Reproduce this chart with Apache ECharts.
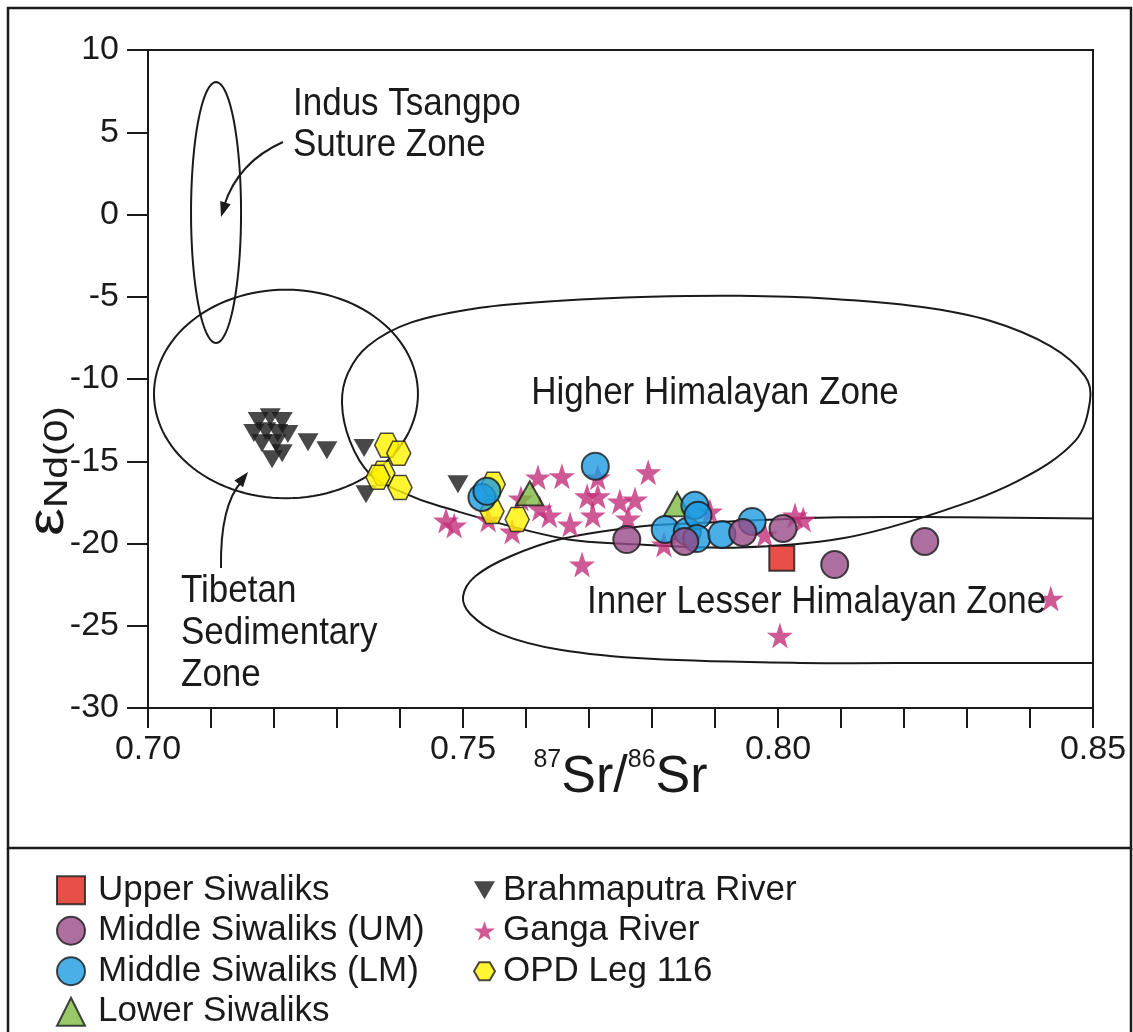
<!DOCTYPE html>
<html>
<head>
<meta charset="utf-8">
<script src="https://cdn.jsdelivr.net/npm/echarts@6/dist/echarts.min.js"></script>
<style>
  html, body { margin: 0; padding: 0; background: #ffffff; }
  #chart { width: 1133px; height: 1032px; }
</style>
</head>
<body>
<div id="chart"></div>
<script>
// 87Sr/86Sr vs εNd(0) for Siwalik sediments, modern rivers and ODP Leg 116 samples
const FONT = '"Liberation Sans", Arial, Helvetica, sans-serif';
const INK = '#1a1a1a';

// ---- axis ticks ----
const xTicks = [0.70, 0.75, 0.80, 0.85];
const yTicks = [-30, -25, -20, -15, -10, -5, 0, 5, 10];

// ---- samples: [87Sr/86Sr, εNd(0)] ----
const upperSiwaliks = [[0.8006, -20.9]];
const middleSiwaliksUM = [
  [0.7760, -19.76], [0.7852, -19.88], [0.7944, -19.33],
  [0.8008, -19.09], [0.8090, -21.28], [0.8233, -19.88]
];
const middleSiwaliksLM = [
  [0.7530, -17.2], [0.7538, -16.83], [0.7710, -15.3], [0.7821, -19.15],
  [0.7856, -19.27], [0.7868, -17.68], [0.7873, -18.29], [0.7871, -19.7],
  [0.7911, -19.45], [0.7959, -18.66]
];
const lowerSiwaliks = [[0.7606, -16.95], [0.7840, -17.62]];
const brahmaputraRiver = [
  [0.7175, -12.56], [0.7194, -12.32], [0.7213, -12.56], [0.7168, -13.29],
  [0.7187, -13.17], [0.7206, -13.29], [0.7222, -13.35], [0.7181, -13.9],
  [0.7203, -13.9], [0.7197, -14.88], [0.7213, -14.51], [0.7254, -13.84],
  [0.7284, -14.33], [0.7343, -14.2], [0.7346, -17.0], [0.7492, -16.4]
];
const gangaRiver = [
  [0.7473, -18.6], [0.7486, -18.9], [0.7540, -18.54], [0.7578, -19.27],
  [0.7592, -17.26], [0.7619, -15.98], [0.7622, -17.87], [0.7637, -18.29],
  [0.7657, -15.91], [0.7670, -18.84], [0.7689, -21.28], [0.7697, -17.13],
  [0.7714, -17.13], [0.7706, -18.29], [0.7714, -15.98], [0.7749, -17.44],
  [0.7773, -17.32], [0.7762, -18.48], [0.7794, -15.67], [0.7819, -20.06],
  [0.7892, -18.05], [0.7979, -19.45], [0.8027, -18.29], [0.8040, -18.54],
  [0.8003, -25.6], [0.8433, -23.35]
];
const odpLeg116 = [
  [0.7379, -14.02], [0.7398, -14.51], [0.7373, -15.73], [0.7365, -15.98],
  [0.7400, -16.59], [0.7548, -16.4], [0.7546, -18.05], [0.7586, -18.54]
];

// ---- source-zone fields ----
// ellipses: [centre Sr, centre εNd, half-width Sr, half-height εNd]
const indusTsangpoField = [0.7108, 0.12, 0.00397, 7.93];
const tibetanField = [0.7219, -10.91, 0.02095, 6.34];
// outlines traced as [Sr, εNd]
const higherHimalayanField = [
  [0.73079, -11.46], [0.73175, -9.63], [0.73492, -7.99], [0.74159, -6.59],
  [0.75270, -5.67], [0.76540, -5.24], [0.77968, -5.0], [0.79397, -4.94],
  [0.80825, -5.12], [0.82254, -5.61], [0.83365, -6.46], [0.84317, -7.99],
  [0.84873, -9.82], [0.84952, -11.34], [0.84714, -13.78], [0.83794, -16.22],
  [0.82397, -18.29], [0.81000, -19.70], [0.79397, -20.24], [0.77810, -20.06],
  [0.76587, -19.70], [0.74635, -17.74], [0.74000, -16.83], [0.73524, -15.79],
  [0.73206, -13.78]
];
const innerLesserHimalayanField = [
  [0.85, -18.48], [0.82889, -18.41], [0.80984, -18.41], [0.78603, -18.78],
  [0.77810, -18.96], [0.76587, -19.70], [0.75746, -20.79], [0.75190, -22.01],
  [0.75000, -23.23], [0.75111, -24.27], [0.75587, -25.49], [0.76540, -26.46],
  [0.77968, -27.01], [0.80349, -27.26], [0.82730, -27.26], [0.85, -27.26]
];

const STAR = 'path://M50,0 L61.8,35.1 L98.5,35.1 L68.8,56.8 L79.4,91 L50,70 L20.6,91 L31.2,56.8 L1.5,35.1 L38.2,35.1 Z';
const HEXAGON = 'path://M0,50 L25,6.7 L75,6.7 L100,50 L75,93.3 L25,93.3 Z';
const DOWN_TRIANGLE = 'path://M0,0 L100,0 L50,86 Z';

function ellipseSeries(field) {
  return {
    type: 'custom', silent: true, clip: false,
    data: [field],
    renderItem: function (params, api) {
      const c = api.coord([api.value(0), api.value(1)]);
      const s = api.size([api.value(2), api.value(3)]);
      const pts = [];
      for (let i = 0; i < 120; i++) {
        const t = (i / 120) * Math.PI * 2;
        pts.push([c[0] + s[0] * Math.cos(t), c[1] + s[1] * Math.sin(t)]);
      }
      return { type: 'polygon', shape: { points: pts },
        style: { fill: 'none', stroke: INK, lineWidth: 2 } };
    }
  };
}

function outlineSeries(points, closed) {
  return {
    type: 'custom', silent: true, clip: false,
    data: [points[0]],
    renderItem: function (params, api) {
      const pts = points.map(p => api.coord(p));
      return { type: closed ? 'polygon' : 'polyline', shape: { points: pts, smooth: 0.35 },
        style: { fill: 'none', stroke: INK, lineWidth: 2 } };
    }
  };
}

const border = { borderColor: INK, borderWidth: 2 };

const chart = echarts.init(document.getElementById('chart'), null, { renderer: 'canvas' });

const labelText = { fontFamily: FONT, fontSize: 35, fill: INK };
function zoneLabel(text, x, y, align) {
  return { type: 'text', z: 50, silent: true, x: x, y: y, scaleY: 1.1,
    style: Object.assign({ text: text, align: align || 'left', verticalAlign: 'middle' }, labelText) };
}

chart.setOption({
  animation: false,
  backgroundColor: '#ffffff',
  textStyle: { fontFamily: FONT, color: INK },
  grid: { left: 148, top: 50, right: 40, bottom: 324, show: true,
          borderColor: INK, borderWidth: 2, backgroundColor: 'transparent' },
  xAxis: {
    type: 'value', min: xTicks[0], max: xTicks[xTicks.length - 1], interval: 0.05,
    axisLine: { onZero: false, lineStyle: { color: INK, width: 2 } },
    axisTick: { inside: false, length: 20, lineStyle: { color: INK, width: 2 } },
    minorTick: { show: true, splitNumber: 5, length: 20, lineStyle: { color: INK, width: 2 } },
    splitLine: { show: false },
    axisLabel: { fontFamily: FONT, fontSize: 34, color: INK, margin: 25,
                 formatter: v => v.toFixed(2) },
    name: '{sup|87}{big|Sr/}{sup|86}{big|Sr}',
    nameLocation: 'middle', nameGap: 40, nameMoveOverlap: false,
    nameTextStyle: { rich: {
      big: { fontFamily: FONT, fontSize: 52, color: INK, verticalAlign: 'bottom', lineHeight: 56 },
      sup: { fontFamily: FONT, fontSize: 25, color: INK, verticalAlign: 'top', lineHeight: 56 }
    } }
  },
  yAxis: {
    type: 'value', min: yTicks[0], max: yTicks[yTicks.length - 1], interval: 5,
    axisLine: { onZero: false, lineStyle: { color: INK, width: 2 } },
    axisTick: { inside: false, length: 21, lineStyle: { color: INK, width: 2 } },
    splitLine: { show: false },
    axisLabel: { fontFamily: FONT, fontSize: 34, color: INK, margin: 29 }
  },
  legend: [
    {
      left: 56, top: 870, padding: 0, orient: 'vertical', itemGap: 0, itemWidth: 28, itemHeight: 28,
      selectedMode: false,
      textStyle: { fontFamily: FONT, fontSize: 35, color: INK, lineHeight: 40.5, padding: [0, 0, 0, 8] },
      data: ['Upper Siwaliks', 'Middle Siwaliks (UM)', 'Middle Siwaliks (LM)', 'Lower Siwaliks']
    },
    {
      left: 473, top: 870, padding: 0, orient: 'vertical', itemGap: 0, itemWidth: 21, itemHeight: 21,
      selectedMode: false,
      textStyle: { fontFamily: FONT, fontSize: 35, color: INK, lineHeight: 40.5, padding: [0, 0, 0, 3] },
      data: ['Brahmaputra River', 'Ganga River', 'OPD Leg 116']
    }
  ],
  series: [
    ellipseSeries(indusTsangpoField),
    ellipseSeries(tibetanField),
    outlineSeries(higherHimalayanField, true),
    outlineSeries(innerLesserHimalayanField, false),
    { name: 'Brahmaputra River', type: 'scatter', data: brahmaputraRiver,
      symbol: DOWN_TRIANGLE, symbolSize: [21, 18],
      itemStyle: { color: INK } },
    { name: 'Ganga River', type: 'scatter', data: gangaRiver,
      symbol: STAR, symbolSize: 26,
      itemStyle: { color: '#c2307a' } },
    { name: 'OPD Leg 116', type: 'scatter', data: odpLeg116,
      symbol: HEXAGON, symbolSize: 24,
      itemStyle: { color: '#fff200', borderColor: INK, borderWidth: 1.5 } },
    { name: 'Lower Siwaliks', type: 'scatter', data: lowerSiwaliks,
      symbol: 'triangle', symbolSize: [27, 24],
      itemStyle: Object.assign({ color: '#7dbb42' }, border) },
    { name: 'Middle Siwaliks (LM)', type: 'scatter', data: middleSiwaliksLM,
      symbol: 'circle', symbolSize: 27,
      itemStyle: Object.assign({ color: '#1b9be0' }, border) },
    { name: 'Middle Siwaliks (UM)', type: 'scatter', data: middleSiwaliksUM,
      symbol: 'circle', symbolSize: 27,
      itemStyle: Object.assign({ color: '#974b88' }, border) },
    { name: 'Upper Siwaliks', type: 'scatter', data: upperSiwaliks,
      symbol: 'rect', symbolSize: 25,
      itemStyle: Object.assign({ color: '#e2231a' }, border) }
  ],
  graphic: [
    // outer frame of the figure and the legend panel
    { type: 'rect', z: 100, silent: true, shape: { x: 8, y: 8, width: 1123, height: 840 },
      style: { fill: 'none', stroke: INK, lineWidth: 2.5 } },
    { type: 'polyline', z: 100, silent: true, shape: { points: [[8, 848], [8, 1034]] },
      style: { stroke: INK, lineWidth: 2.5 } },
    { type: 'polyline', z: 100, silent: true, shape: { points: [[1131, 848], [1131, 1034]] },
      style: { stroke: INK, lineWidth: 2.5 } },

    // y-axis title
    { type: 'text', z: 50, silent: true, x: 48, y: 471, rotation: Math.PI / 2, scaleX: 1.2,
      style: { text: '{e|ε}{n|Nd(0)}', align: 'center', verticalAlign: 'middle',
        rich: {
          e: { fontFamily: FONT, fontSize: 52, fill: INK, verticalAlign: 'bottom', lineHeight: 54 },
          n: { fontFamily: FONT, fontSize: 34, fill: INK, verticalAlign: 'bottom', lineHeight: 54 }
        } } },

    // zone names
    zoneLabel('Indus Tsangpo', 293, 104),
    zoneLabel('Suture Zone', 293, 145),
    zoneLabel('Higher Himalayan Zone', 715, 393, 'center'),
    zoneLabel('Tibetan', 181, 591),
    zoneLabel('Sedimentary', 181, 633),
    zoneLabel('Zone', 181, 675),
    zoneLabel('Inner Lesser Himalayan Zone', 587, 602),

    // pointer arrows
    { type: 'bezierCurve', z: 50, silent: true,
      shape: { x1: 283, y1: 142, cpx1: 238, cpy1: 162, x2: 224, y2: 206 },
      style: { fill: 'none', stroke: INK, lineWidth: 2 } },
    { type: 'polygon', z: 50, silent: true,
      shape: { points: [[221, 217], [230.7, 204.3], [220.2, 201.1]] },
      style: { fill: INK } },
    { type: 'bezierCurve', z: 50, silent: true,
      shape: { x1: 221, y1: 568, cpx1: 220, cpy1: 505, x2: 242, y2: 481 },
      style: { fill: 'none', stroke: INK, lineWidth: 2 } },
    { type: 'polygon', z: 50, silent: true,
      shape: { points: [[248, 472], [243.0, 487.2], [234.4, 480.4]] },
      style: { fill: INK } }
  ]
});
</script>
</body>
</html>
